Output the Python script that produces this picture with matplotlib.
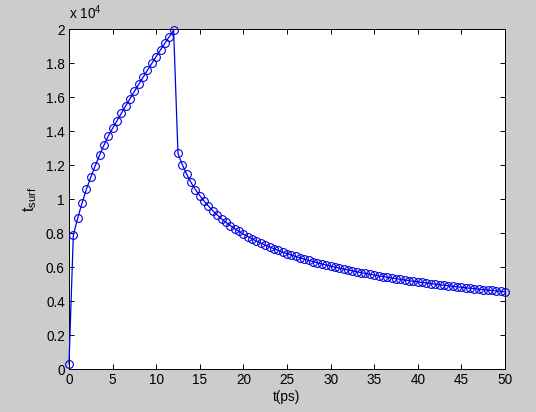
import matplotlib
matplotlib.use("Agg")
import matplotlib.pyplot as plt
from matplotlib.ticker import FixedLocator

plt.rcParams['font.family'] = ['Liberation Sans', 'DejaVu Sans']
plt.rcParams['mathtext.fontset'] = 'custom'
plt.rcParams['mathtext.rm'] = 'Liberation Sans'
plt.rcParams['mathtext.it'] = 'Liberation Sans'

# time (ps), step 0.5 from 0 to 50
t_heat = [0, 0.5, 1, 1.5, 2, 2.5, 3, 3.5, 4, 4.5, 5, 5.5, 6, 6.5, 7, 7.5, 8,
          8.5, 9, 9.5, 10, 10.5, 11, 11.5, 12]
T_heat = [330, 7900, 8900, 9780, 10600, 11300, 11960, 12590, 13170, 13720,
          14170, 14615, 15055, 15490, 15920, 16345, 16765, 17180, 17590,
          17995, 18395, 18790, 19180, 19565, 19945]

t_cool = [12.5, 13, 13.5, 14, 14.5, 15, 15.5, 16, 16.5, 17, 17.5, 18, 18.5,
          19, 19.5, 20, 20.5, 21, 21.5, 22, 22.5, 23, 23.5, 24, 24.5, 25,
          25.5, 26, 26.5, 27, 27.5, 28, 28.5, 29, 29.5, 30, 30.5, 31, 31.5,
          32, 32.5, 33, 33.5, 34, 34.5, 35, 35.5, 36, 36.5, 37, 37.5, 38,
          38.5, 39, 39.5, 40, 40.5, 41, 41.5, 42, 42.5, 43, 43.5, 44, 44.5,
          45, 45.5, 46, 46.5, 47, 47.5, 48, 48.5, 49, 49.5, 50]
T_cool = [12700, 12030, 11470, 10990, 10570, 10220, 9890, 9595, 9322, 9075,
          8850, 8643, 8452, 8275, 8110, 7955, 7810, 7674, 7545, 7423, 7308,
          7198, 7094, 6994, 6899, 6808, 6721, 6637, 6557, 6480, 6406, 6334,
          6265, 6199, 6135, 6073, 6012, 5954, 5898, 5843, 5790, 5739, 5688,
          5640, 5593, 5547, 5502, 5458, 5415, 5374, 5333, 5294, 5255, 5218,
          5181, 5145, 5110, 5075, 5042, 5009, 4977, 4945, 4915, 4884, 4854,
          4825, 4797, 4769, 4742, 4715, 4688, 4663, 4637, 4612, 4588, 4564]

t = t_heat + t_cool
T = T_heat + T_cool

x_ticks = [0, 5, 10, 15, 20, 25, 30, 35, 40, 45, 50]
y_ticks = [0, 2000, 4000, 6000, 8000, 10000, 12000, 14000, 16000, 18000, 20000]
y_ticklabels = ['0', '0.2', '0.4', '0.6', '0.8', '1', '1.2', '1.4', '1.6', '1.8', '2']

FS = 9.8

fig = plt.figure(figsize=(5.36, 4.12), dpi=100, facecolor='#cccccc')
ax = fig.add_axes([0.1287, 0.1036, 0.8134, 0.8253])
ax.set_facecolor('white')

ax.plot(t, T, color='#0000e6', linewidth=0.9, marker='o', markersize=5.6,
        markerfacecolor='none', markeredgecolor='#0000e6', markeredgewidth=0.8,
        clip_on=False, zorder=3)

ax.set_xlim(0, 50)
ax.set_ylim(0, 20000)
ax.xaxis.set_major_locator(FixedLocator(x_ticks))
ax.yaxis.set_major_locator(FixedLocator(y_ticks))
ax.set_yticklabels(y_ticklabels)
ax.set_xticklabels([str(v) for v in x_ticks])

ax.tick_params(direction='in', length=3.6, width=0.7, top=True, right=True,
               labelsize=FS, pad=3, colors='black')
for s in ax.spines.values():
    s.set_linewidth(0.7)
    s.set_color('black')

ax.set_xlabel('t(ps)', fontsize=FS, labelpad=2)
ax.set_ylabel(r'$\mathregular{t_{surf}}$', fontsize=11.5, labelpad=5)

ax.text(0.0, 1.02, r'x 10$^{\mathregular{4}}$', transform=ax.transAxes,
        fontsize=FS, ha='left', va='bottom')

fig.savefig('out.png', dpi=100, facecolor=fig.get_facecolor())
